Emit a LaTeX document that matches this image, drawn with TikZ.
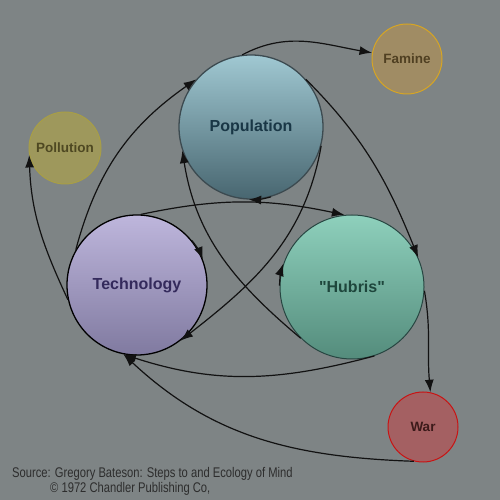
\documentclass[tikz,border=0pt]{standalone}
\usepackage{fontspec}
\setmainfont{Liberation Sans}
\newfontfamily\sourcefont[FakeStretch=0.8]{Liberation Sans}
\usepackage{xcolor}
\usetikzlibrary{arrows.meta}
\definecolor{backdrop}{RGB}{126,132,133}
\definecolor{arrowink}{RGB}{18,18,18}
\definecolor{pop-top}{RGB}{160,200,210}
\definecolor{pop-bottom}{RGB}{72,102,112}
\definecolor{pop-text}{RGB}{25,55,70}
\definecolor{tech-top}{RGB}{190,182,220}
\definecolor{tech-bottom}{RGB}{128,122,160}
\definecolor{tech-text}{RGB}{52,42,92}
\definecolor{hub-top}{RGB}{142,208,188}
\definecolor{hub-bottom}{RGB}{84,140,124}
\definecolor{hub-text}{RGB}{30,70,60}
\newcommand{\straightquote}{\XeTeXglyph\XeTeXcharglyph"22\relax}
\tikzset{
    big-circle/.style = {circle, minimum size=144pt, inner sep=0pt, line width=1.3pt, font=\fontsize{16}{18}\selectfont\bfseries},
    small-circle/.style = {circle, minimum size=70pt, inner sep=0pt, line width=1pt, font=\fontsize{13.5}{16}\selectfont\bfseries},
    flow-arrow/.style = {-{Latex[length=12.5pt,width=9pt]}, line width=1.2pt, draw=arrowink},
    self-loop/.style = {flow-arrow},
}

\begin{document}
\begin{tikzpicture}[x=1pt, y=1pt]
\useasboundingbox (0,0) rectangle (500,500);
\fill[backdrop] (0,0) rectangle (500,500);

\node[big-circle, top color=pop-top, bottom color=pop-bottom, draw={rgb,255:red,60;green,74;blue,80}, text=pop-text] (population) at (251,373) {Population};
\node[big-circle, minimum size=140pt, top color=tech-top, bottom color=tech-bottom, draw=black, text=tech-text] (technology) at (137,215) {Technology};
\node[big-circle, top color=hub-top, bottom color=hub-bottom, draw={rgb,255:red,40;green,70;blue,66}, line width=1pt, text=hub-text] (hubris) at (352,213) {\straightquote Hubris\straightquote};
\node[small-circle, fill={rgb,255:red,160;green,140;blue,100}, draw={rgb,255:red,215;green,165;blue,35}, text={rgb,255:red,80;green,64;blue,34}] (famine) at (407,441) {Famine};
\node[small-circle, minimum size=72pt, fill={rgb,255:red,158;green,152;blue,92}, draw={rgb,255:red,168;green,158;blue,70}, text={rgb,255:red,78;green,72;blue,34}] (pollution) at (65,352) {Pollution};
\node[small-circle, fill={rgb,255:red,164;green,96;blue,98}, draw={rgb,255:red,200;green,20;blue,20}, text={rgb,255:red,60;green,26;blue,26}] (war) at (423,73) {War};

\draw[flow-arrow] (technology.150) to[out=75, in=215] (population.139);
\draw[flow-arrow] (population.97) to[out=28, in=170] (famine.170);
\draw[flow-arrow] (population.41) to[out=-45, in=112] (hubris.24);
\draw[flow-arrow] (hubris.-3) to[out=-80, in=95] (war.78);
\draw[flow-arrow] (technology.87) to[out=12, in=168] (hubris.96);
\draw[flow-arrow] (population.-15) to[out=-100, in=38] (technology.-52);
\draw[flow-arrow] (hubris.225) to[out=140, in=-81] (population.199);
\draw[flow-arrow] (hubris.-72) to[out=195, in=-18] (technology.-101);
\draw[flow-arrow] (war.255) to[out=178, in=-43] (technology.-101);
\draw[flow-arrow] (technology.192) to[out=115, in=-88] (pollution.191);

\draw[self-loop] (population.286) arc[start angle=286, end angle=268, radius=72pt];
\draw[self-loop] (technology.39) arc[start angle=39, end angle=21, radius=70pt];
\draw[self-loop] (hubris.179) arc[start angle=179, end angle=161, radius=72pt];

\node[anchor=base west, inner sep=0pt, text={rgb,255:red,45;green,45;blue,45}, font=\sourcefont\fontsize{14}{15}\selectfont] (source) at (12,22) {Source: Gregory Bateson: Steps to and Ecology of Mind};
\node[anchor=base west, inner sep=0pt, text={rgb,255:red,45;green,45;blue,45}, font=\sourcefont\fontsize{14}{15}\selectfont] (publisher) at (50,8) {\textcopyright{} 1972 Chandler Publishing Co,};
\end{tikzpicture}
\end{document}
